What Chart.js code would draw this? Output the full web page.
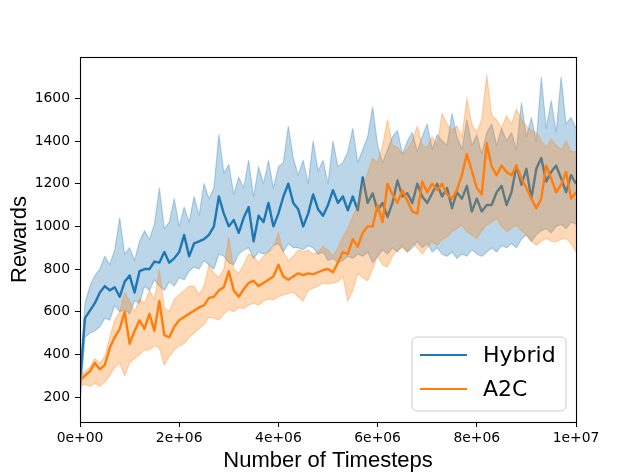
<!DOCTYPE html>
<html><head><meta charset="utf-8">
<script src="https://cdn.jsdelivr.net/npm/chart.js@4.4.0/dist/chart.umd.min.js"></script>
<style>html,body{margin:0;padding:0;background:#fff;} canvas{display:block;}</style>
</head><body>
<canvas id="c" width="640" height="474"></canvas>
<script>
// ---- data ----
const seriesNames = ["Hybrid", "A2C"];
const stepSize = 100000; // timesteps between samples
const hybridMean = [270,570,605,640,690,720,700,715,670,740,
 770,690,790,800,800,835,830,880,830,850,
 880,960,860,920,930,940,960,1000,1140,1060,
 1000,1030,970,1040,1090,930,1050,1020,1110,1000,
 1060,1140,1200,1110,1080,1000,1060,1150,1080,1050,
 1100,1170,1110,1140,1075,1140,1075,1230,1110,1155,
 1075,1110,1045,1110,1215,1140,1155,1110,1200,1140,
 1110,1155,1200,1140,1180,1085,1160,1130,1190,1070,
 1130,1070,1100,1100,1160,1190,1100,1160,1285,1195,
 1270,1130,1270,1320,1210,1255,1285,1225,1160,1240,
 1200];
const hybridUpper = [290,640,720,770,800,860,820,890,1040,870,
 900,840,930,980,940,1010,1180,990,1020,1130,
 1000,1090,1020,1140,1050,1200,1130,1180,1430,1250,
 1290,1150,1230,1180,1310,1140,1280,1200,1310,1180,
 1280,1300,1470,1320,1240,1310,1200,1400,1260,1310,
 1200,1400,1280,1300,1350,1460,1300,1360,1420,1560,
 1380,1300,1360,1420,1450,1340,1400,1440,1350,1420,
 1480,1360,1430,1400,1380,1530,1420,1360,1500,1380,
 1430,1340,1440,1480,1380,1460,1400,1440,1360,1580,
 1420,1510,1400,1700,1460,1590,1440,1700,1480,1510,
 1460];
const hybridLower = [160,480,500,510,530,570,560,630,600,610,
 590,650,640,720,700,750,720,700,740,720,
 760,750,790,810,800,840,820,800,870,860,
 830,820,870,890,900,850,880,870,880,910,
 920,880,920,900,900,890,910,900,870,880,
 840,850,830,840,860,850,870,860,880,830,
 860,890,870,900,880,910,880,900,930,900,
 920,880,900,870,860,880,850,870,860,890,
 870,860,880,900,880,910,900,920,900,940,
 960,930,960,980,990,970,1000,1010,990,1020,
 1010];
const a2cMean = [280,300,320,360,330,350,430,480,520,600,
 450,510,560,520,590,510,650,490,480,530,
 560,575,590,605,620,630,665,670,700,715,
 790,700,670,705,735,745,720,735,750,765,
 820,765,750,765,780,772,780,775,785,795,
 800,785,830,880,870,940,905,970,1000,1000,
 1100,1020,1200,1150,1110,1170,1120,1070,1060,1210,
 1160,1200,1170,1200,1150,1130,1170,1240,1340,1260,
 1180,1150,1390,1280,1240,1285,1255,1240,1285,1225,
 1180,1130,1085,1130,1285,1225,1160,1195,1255,1130,
 1160];
const a2cUpper = [300,320,340,380,360,390,480,560,600,690,
 650,600,660,640,700,660,795,620,600,660,
 680,700,720,720,680,720,820,780,760,800,
 950,800,780,820,870,860,830,860,880,900,
 970,880,840,860,890,880,890,870,880,905,
 890,860,900,950,990,1045,1100,1200,1250,1320,
 1300,1380,1500,1380,1370,1340,1360,1400,1470,1380,
 1370,1420,1380,1530,1480,1450,1470,1420,1600,1480,
 1440,1500,1710,1520,1500,1460,1520,1480,1550,1500,
 1470,1450,1440,1400,1370,1410,1380,1360,1400,1350,
 1350];
const a2cLower = [250,260,250,265,250,270,300,340,360,300,
 360,380,400,420,420,440,430,350,390,420,
 440,450,480,500,520,540,575,570,560,590,
 610,600,620,615,630,640,630,650,660,655,
 670,680,686,690,670,650,700,710,720,735,
 730,735,740,765,650,700,780,760,745,800,
 860,820,810,860,890,900,880,920,900,870,
 900,930,910,940,950,975,990,1006,975,960,
 944,980,1006,1020,1037,1000,975,990,1006,980,
 961,930,912,930,944,930,928,940,944,920,
 880];
const xTickValues = [0, 2000000, 4000000, 6000000, 8000000, 10000000];
const xTickLabels = ["0e+00", "2e+06", "4e+06", "6e+06", "8e+06", "1e+07"];
const yTickValues = [200, 400, 600, 800, 1000, 1200, 1400, 1600];
const xLabel = "Number of Timesteps";
const yLabel = "Rewards";

// ---- build chart ----
const timesteps = hybridMean.map((_, i) => i * stepSize);
const pts = arr => arr.map((v, i) => ({x: timesteps[i], y: v}));
const BLUE = '#1f77b4', ORANGE = '#ff7f0e';
const BLUE_A = 'rgba(31,119,180,0.3)', ORANGE_A = 'rgba(255,127,14,0.3)';
const base = {pointRadius: 0, pointHoverRadius: 0, tension: 0, borderJoinStyle: 'round'};

Chart.defaults.font.family = "'DejaVu Sans'";
Chart.defaults.color = '#000';

const framePlugin = {
  id: 'frame',
  afterDatasetsDraw(chart) {
    const {ctx, chartArea: a} = chart;
    ctx.save();
    ctx.strokeStyle = '#000';
    ctx.lineWidth = 1.1;
    ctx.strokeRect(Math.round(a.left) + 0.5, Math.round(a.top) + 0.5,
                   Math.round(a.right - a.left), Math.round(a.bottom - a.top));
    ctx.restore();
  }
};

const legendPlugin = {
  id: 'mplLegend',
  afterDraw(chart) {
    const ctx = chart.ctx;
    const a = chart.chartArea;
    const colors = [BLUE, ORANGE];
    const x0 = a.right - 164, y0 = a.bottom - 85, w = 154, h = 74, r = 5;
    ctx.save();
    ctx.beginPath();
    ctx.moveTo(x0 + r, y0);
    ctx.arcTo(x0 + w, y0, x0 + w, y0 + h, r);
    ctx.arcTo(x0 + w, y0 + h, x0, y0 + h, r);
    ctx.arcTo(x0, y0 + h, x0, y0, r);
    ctx.arcTo(x0, y0, x0 + w, y0, r);
    ctx.closePath();
    ctx.fillStyle = 'rgba(255,255,255,0.8)';
    ctx.fill();
    ctx.strokeStyle = '#cccccc';
    ctx.lineWidth = 1;
    ctx.stroke();
    ctx.font = "22px 'DejaVu Sans'";
    ctx.textBaseline = 'middle';
    ctx.textAlign = 'left';
    seriesNames.forEach((name, k) => {
      const yy = y0 + 18 + k * 34;
      ctx.strokeStyle = colors[k];
      ctx.lineWidth = 2;
      ctx.beginPath();
      ctx.moveTo(x0 + 8, yy);
      ctx.lineTo(x0 + 55, yy);
      ctx.stroke();
      ctx.fillStyle = '#000';
      ctx.fillText(name, x0 + 71, yy + 1);
    });
    ctx.restore();
  }
};

new Chart(document.getElementById('c'), {
  type: 'line',
  data: {
    datasets: [
      Object.assign({}, base, {label: seriesNames[0] + ' upper', data: pts(hybridUpper), borderColor: BLUE_A, backgroundColor: BLUE_A, borderWidth: 1.2, fill: '+1', order: 3}),
      Object.assign({}, base, {label: seriesNames[0] + ' lower', data: pts(hybridLower), borderColor: BLUE_A, borderWidth: 1.2, fill: false, order: 3}),
      Object.assign({}, base, {label: seriesNames[0], data: pts(hybridMean), borderColor: BLUE, borderWidth: 2.4, fill: false, order: 4}),
      Object.assign({}, base, {label: seriesNames[1] + ' upper', data: pts(a2cUpper), borderColor: ORANGE_A, backgroundColor: ORANGE_A, borderWidth: 1.2, fill: '+1', order: 1}),
      Object.assign({}, base, {label: seriesNames[1] + ' lower', data: pts(a2cLower), borderColor: ORANGE_A, borderWidth: 1.2, fill: false, order: 1}),
      Object.assign({}, base, {label: seriesNames[1], data: pts(a2cMean), borderColor: ORANGE, borderWidth: 2.4, fill: false, order: 2})
    ]
  },
  options: {
    responsive: false,
    animation: false,
    devicePixelRatio: 1,
    layout: {padding: {top: 57, right: 64, left: 0, bottom: 0}},
    plugins: {legend: {display: false}, tooltip: {enabled: false}},
    scales: {
      x: {
        type: 'linear', min: 0, max: 10000000,
        afterFit(s) { s.height = 52; },
        afterBuildTicks(s) { s.ticks = xTickValues.map(v => ({value: v})); },
        ticks: {
          autoSkip: false, maxRotation: 0, padding: 3,
          font: {size: 13.9, family: "'DejaVu Sans'"}, color: '#000',
          callback: (v) => xTickLabels[xTickValues.indexOf(v)]
        },
        grid: {display: true, drawOnChartArea: false, drawTicks: true, tickLength: 5, color: '#000', lineWidth: 1},
        border: {display: false},
        title: {display: true, text: xLabel, color: '#000',
                font: {size: 22, family: "'Liberation Sans', Arial"}, padding: {top: 0, bottom: 0}}
      },
      y: {
        type: 'linear', min: 83, max: 1794,
        afterFit(s) { s.width = 80; },
        afterBuildTicks(s) { s.ticks = yTickValues.map(v => ({value: v})); },
        ticks: {
          autoSkip: false, padding: 5,
          font: {size: 13.9, family: "'DejaVu Sans'"}, color: '#000',
          callback: (v) => String(v)
        },
        grid: {display: true, drawOnChartArea: false, drawTicks: true, tickLength: 5, color: '#000', lineWidth: 1},
        border: {display: false},
        title: {display: true, text: yLabel, color: '#000',
                font: {size: 22, family: "'Liberation Sans', Arial"}, padding: {top: 7, bottom: 0}}
      }
    }
  },
  plugins: [framePlugin, legendPlugin]
});
</script>
</body></html>
